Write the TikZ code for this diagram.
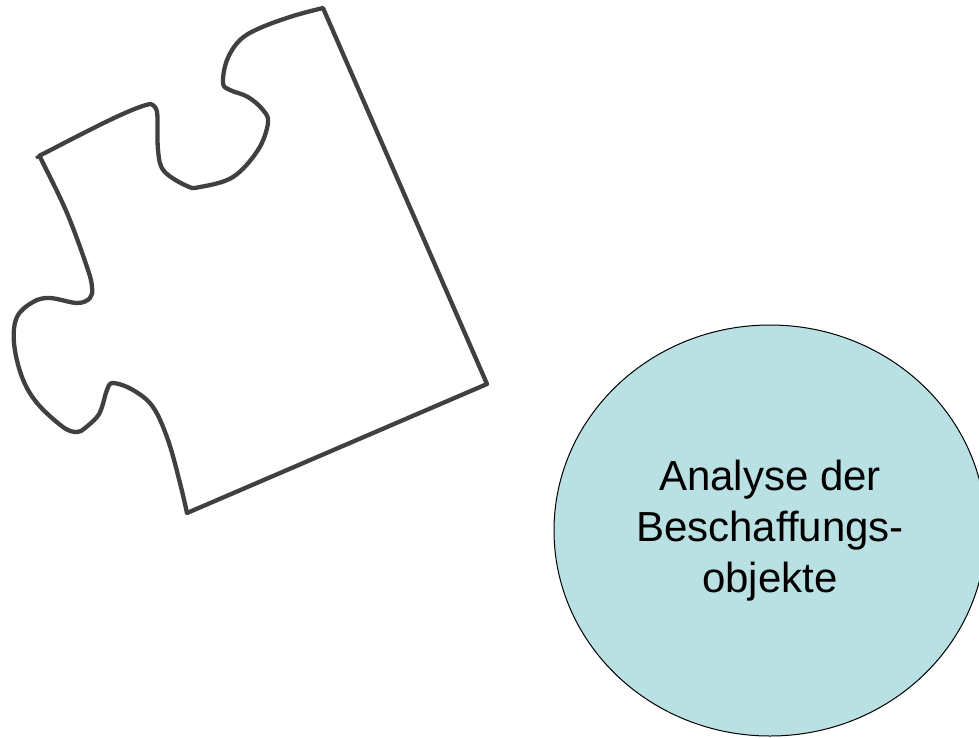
\documentclass[tikz,border=0pt]{standalone}
\usepackage{fontspec}
\setmainfont{Liberation Sans}
\usetikzlibrary{shapes}
\definecolor{piecegray}{RGB}{64,64,64}
\definecolor{circleblue}{RGB}{185,224,227}

\begin{document}
\begin{tikzpicture}[x=1pt, y=-1pt]
  \useasboundingbox (0,0) rectangle (979,737);
  % puzzle piece
  \draw[piecegray, line width=4.3pt, line join=round]
    (39,156) .. controls (80,135) and (130,108) .. (150,104)
    -- plot[smooth, tension=0.6] coordinates {(150,104) (157,112) (158,150) (164,171) (187,186) (200,187) (233,177) (258,150) (268,123) (263,110) (248,97) (230,90) (223,83) (227,60) (240,40) (260,28) (293,16) (323,8)}
    -- (487,384) -- (187,513)
    -- plot[smooth, tension=0.6] coordinates {(187,513) (180,483) (168,440) (153,407) (133,390) (113,383) (107,390) (102,407) (97,417) (85,428) (77,432) (63,427) (37,403) (22,377) (14,343) (17,317) (33,302) (50,298) (77,303) (90,298) (92,287) (87,267) (67,213) (43,163) (39,156)}
    -- cycle;
  \draw[piecegray, line width=3pt] (36,158) -- (42,154);
  % circle
  \node[draw, ellipse, fill=circleblue, line width=1pt, minimum width=432pt, minimum height=411pt, inner sep=0pt,
        font=\fontsize{42}{51}\selectfont, align=center] (analyse) at (770,530.5) {Analyse der\\Beschaffungs-\\objekte};
\end{tikzpicture}
\end{document}
